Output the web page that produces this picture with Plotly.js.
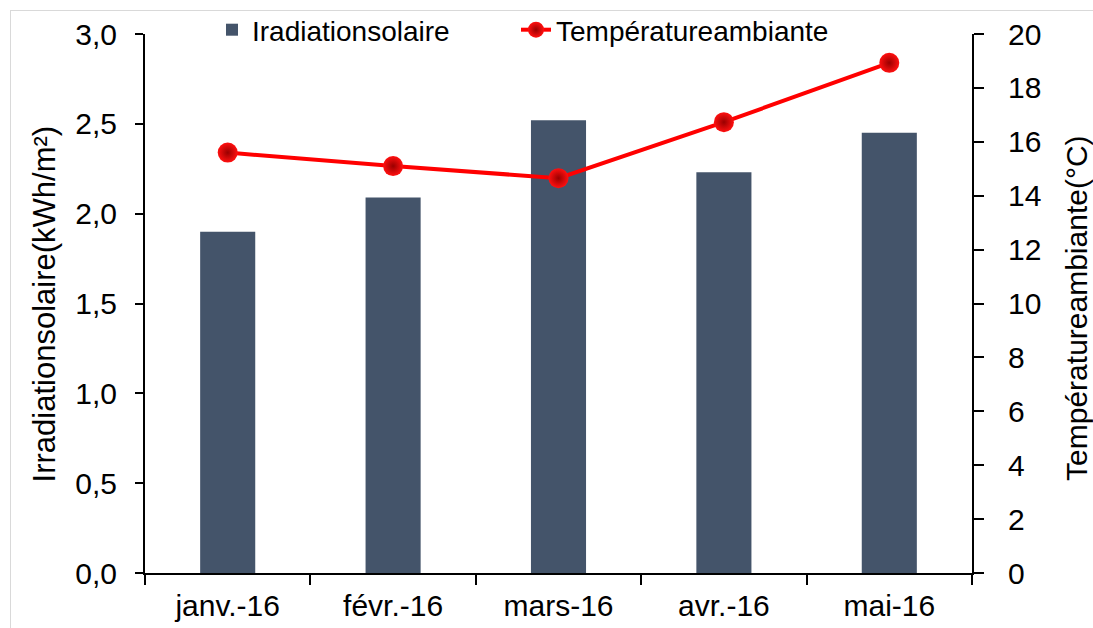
<!DOCTYPE html>
<html>
<head>
<meta charset="utf-8">
<script src="https://cdn.plot.ly/plotly-3.0.1.min.js"></script>
<style>
html,body{margin:0;padding:0;background:#fff;overflow:hidden;}
#wrap{position:relative;width:1093px;height:628px;}
#chart{position:absolute;left:0;top:0;width:1093px;height:628px;}
#frame{position:absolute;left:10px;top:10px;width:1200px;height:800px;border:1px solid #d9d9d9;pointer-events:none;}
</style>
</head>
<body>
<div id="wrap"><div id="frame"></div><div id="chart"></div></div>
<script>
const months = ['janv.-16', 'févr.-16', 'mars-16', 'avr.-16', 'mai-16'];
const irradiation = [1.90, 2.09, 2.52, 2.23, 2.45];
const temperature = [15.6, 15.1, 14.65, 16.73, 18.93];
const leftTicks = [0, 0.5, 1.0, 1.5, 2.0, 2.5, 3.0];
const rightTicks = [0, 2, 4, 6, 8, 10, 12, 14, 16, 18, 20];

const FONT = 'Liberation Sans, Arial, sans-serif';

const traces = [
  {
    type: 'bar', name: 'Iradiationsolaire', x: months, y: irradiation,
    marker: {color: '#44546A'}, yaxis: 'y', legend: 'legend'
  },
  {
    type: 'scatter', mode: 'lines+markers', name: 'Températureambiante',
    x: months, y: temperature, yaxis: 'y2', legend: 'legend2',
    line: {color: '#FF0000', width: 4},
    marker: {size: 20, color: '#FF1010', gradient: {type: 'radial', color: '#9a0000'}, line: {width: 0}}
  }
];

const legendBase = {
  orientation: 'h', xanchor: 'left', yanchor: 'middle', xref: 'container', yref: 'container',
  font: {size: 28, family: FONT}, bgcolor: 'rgba(0,0,0,0)', borderwidth: 0
};

const layout = {
  width: 1093, height: 628,
  margin: {l: 145, r: 121, t: 34, b: 55, pad: 0, autoexpand: false},
  paper_bgcolor: 'rgba(0,0,0,0)', plot_bgcolor: 'rgba(0,0,0,0)',
  font: {family: FONT, color: '#000', size: 28},
  separators: ', ',
  bargap: 0.667,
  showlegend: true,
  legend: Object.assign({}, legendBase, {x: 212 / 1093, y: 1 - 30 / 628}),
  legend2: Object.assign({}, legendBase, {x: 516 / 1093, y: 1 - 30 / 628}),
  xaxis: {
    type: 'category', showline: true, linecolor: '#000', linewidth: 2,
    ticks: 'outside', ticklen: 10, tickwidth: 2, tickcolor: '#000',
    tickson: 'boundaries', showgrid: false, zeroline: false,
    tickfont: {size: 30, family: FONT}, ticklabelstandoff: 5
  },
  yaxis: {
    range: [0, 3], tickvals: leftTicks, tickformat: '.1f',
    showline: true, linecolor: '#000', linewidth: 2,
    ticks: 'outside', ticklen: 8, tickwidth: 2, tickcolor: '#000',
    showgrid: false, zeroline: false, tickfont: {size: 30, family: FONT},
    ticklabelstandoff: 12
  },
  yaxis2: {
    range: [0, 20], tickvals: rightTicks, overlaying: 'y', side: 'right',
    showline: true, linecolor: '#000', linewidth: 2,
    ticks: 'outside', ticklen: 10, tickwidth: 2, tickcolor: '#000',
    showgrid: false, zeroline: false, tickfont: {size: 30, family: FONT},
    ticklabelstandoff: 18
  },
  annotations: [
    {text: 'Irradiationsolaire(kWh/m²)', xref: 'paper', yref: 'paper', x: -0.121, y: 0.5,
     xanchor: 'center', yanchor: 'middle', textangle: -90, showarrow: false, font: {size: 31, family: FONT}},
    {text: 'Températureambiante(°C)', xref: 'paper', yref: 'paper', x: 1.127, y: 0.49,
     xanchor: 'center', yanchor: 'middle', textangle: -90, showarrow: false, font: {size: 30, family: FONT}}
  ]
};

Plotly.newPlot('chart', traces, layout, {displayModeBar: false, staticPlot: true});
</script>
</body>
</html>
